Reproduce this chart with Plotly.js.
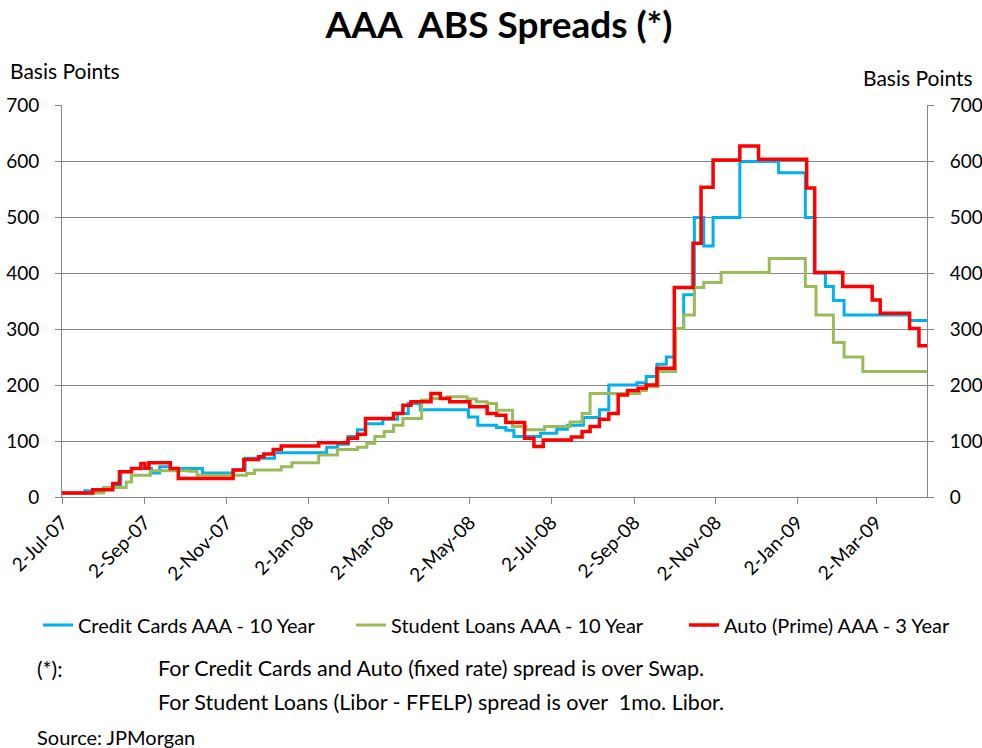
<!DOCTYPE html>
<html>
<head>
<meta charset="utf-8">
<script src="https://cdn.plot.ly/plotly-3.0.1.min.js"></script>
<style>html,body{margin:0;padding:0;background:#fff;}#chart{width:982px;height:748px;}</style>
</head>
<body>
<div id="chart"></div>
<script>
// Credit Cards AAA - 10 Year
const ccDates = ["2007-07-02","2007-07-19","2007-08-02","2007-08-10","2007-08-15","2007-08-23","2007-09-07","2007-09-13","2007-09-21","2007-10-15","2007-11-07","2007-11-16","2007-12-08","2008-01-16","2008-01-24","2008-02-01","2008-02-08","2008-02-14","2008-02-27","2008-03-09","2008-03-17","2008-03-26","2008-05-01","2008-05-08","2008-05-22","2008-05-29","2008-06-04","2008-06-24","2008-07-06","2008-07-14","2008-07-26","2008-08-07","2008-08-14","2008-09-04","2008-09-11","2008-09-19","2008-09-26","2008-10-02","2008-10-09","2008-10-17","2008-10-24","2008-10-31","2008-11-20","2008-12-19","2009-01-08","2009-01-15","2009-01-23","2009-01-29","2009-02-06","2009-03-27","2009-04-09"];
const ccValues = [7,11,17,21,45,51,43,54,51,43,48,69,79,89,94,108,120,131,139,149,167,156,143,128,124,119,108,114,121,128,142,156,200,204,215,237,250,301,361,499,448,499,599,579,499,400,376,351,325,315,315];

// Student Loans AAA - 10 Year
const slDates = ["2007-07-02","2007-08-02","2007-08-19","2007-08-23","2007-09-06","2007-10-05","2007-10-11","2007-11-17","2007-11-23","2007-12-13","2007-12-21","2008-01-10","2008-01-24","2008-02-08","2008-02-15","2008-02-21","2008-02-28","2008-03-06","2008-03-13","2008-03-27","2008-04-03","2008-04-15","2008-04-30","2008-05-07","2008-05-15","2008-05-22","2008-06-03","2008-06-13","2008-06-27","2008-07-16","2008-07-25","2008-07-31","2008-09-06","2008-09-11","2008-09-20","2008-10-03","2008-10-09","2008-10-17","2008-10-24","2008-11-06","2008-12-12","2009-01-08","2009-01-16","2009-01-29","2009-02-06","2009-02-20","2009-04-09"];
const slValues = [7,17,27,39,47,46,39,42,48,54,61,75,85,89,96,108,117,128,140,173,176,179,175,170,167,155,126,120,126,134,149,185,190,197,224,301,325,374,383,401,426,376,325,276,250,224,224];

// Auto (Prime) AAA - 3 Year
const auDates = ["2007-07-02","2007-07-25","2007-08-09","2007-08-14","2007-08-23","2007-08-30","2007-09-02","2007-09-05","2007-09-21","2007-09-27","2007-11-07","2007-11-15","2007-11-26","2007-11-30","2007-12-07","2007-12-13","2008-01-10","2008-02-01","2008-02-08","2008-02-14","2008-03-06","2008-03-13","2008-03-19","2008-04-03","2008-04-10","2008-04-17","2008-05-02","2008-05-15","2008-05-22","2008-05-29","2008-06-12","2008-06-19","2008-06-26","2008-07-17","2008-07-25","2008-07-31","2008-08-07","2008-08-14","2008-08-21","2008-08-28","2008-09-05","2008-09-11","2008-09-19","2008-10-02","2008-10-16","2008-10-22","2008-10-31","2008-11-20","2008-12-04","2009-01-09","2009-01-15","2009-02-05","2009-02-27","2009-03-05","2009-03-27","2009-04-03","2009-04-09"];
const auValues = [7,13,24,45,51,60,52,61,51,33,48,67,72,77,85,91,97,105,112,140,149,164,170,185,176,170,161,149,146,133,105,90,102,107,117,126,139,149,182,190,194,200,230,374,453,553,602,627,603,552,401,376,352,328,301,270,270];

const seriesNames = ["Credit Cards AAA - 10 Year","Student Loans AAA - 10 Year","Auto (Prime) AAA - 3 Year"];
const yTicks = [0,100,200,300,400,500,600,700];

const FONT = "Lato, 'Open Sans', sans-serif";
const L = 62, R = 927, T = 105, B = 497, W = 982, H = 748;
const px = X => (X - L) / (R - L);
const py = Y => (B - Y) / (B - T);

const traces = [
  {x: ccDates, y: ccValues, name: seriesNames[0], legend: 'legend', type: 'scatter', mode: 'lines', line: {shape: 'hv', color: '#00B0F0', width: 3}},
  {x: slDates, y: slValues, name: seriesNames[1], legend: 'legend2', type: 'scatter', mode: 'lines', line: {shape: 'hv', color: '#9BBB59', width: 3}},
  {x: auDates, y: auValues, name: seriesNames[2], legend: 'legend3', type: 'scatter', mode: 'lines', line: {shape: 'hv', color: '#FF0000', width: 3.5}},
  {x: ccDates.slice(0,1), y: [null], yaxis: 'y2', showlegend: false, type: 'scatter', mode: 'lines', hoverinfo: 'skip'}
];

const ann = (text, X, Y, xa, size, bold) => ({
  text: bold ? '<b>' + text + '</b>' : text, xref: 'paper', yref: 'paper', x: px(X), y: py(Y),
  xanchor: xa, yanchor: 'middle', showarrow: false, font: {family: FONT, size: size, color: '#000'}
});

const leg = X => ({
  orientation: 'h', x: px(X), xanchor: 'left', y: py(625), yanchor: 'middle',
  font: {family: FONT, size: 20, color: '#000'}, bgcolor: 'rgba(0,0,0,0)'
});

const layout = {
  width: W, height: H,
  margin: {l: L, r: W - R, t: T, b: H - B, pad: 0},
  paper_bgcolor: '#fff', plot_bgcolor: '#fff',
  font: {family: FONT, size: 18, color: '#000'},
  showlegend: true,
  hovermode: false,
  xaxis: {
    type: 'date', range: ['2007-07-02', '2009-04-09'],
    tick0: '2007-07-02', dtick: 'M2', tickformat: '%-d-%b-%y', tickangle: -45,
    ticks: 'outside', ticklen: 6, tickcolor: '#868686', tickwidth: 1,
    showgrid: false, zeroline: false, showline: true, linecolor: '#868686', linewidth: 1,
    tickfont: {family: FONT, size: 19, color: '#000'}, fixedrange: true
  },
  yaxis: {
    range: [0, 700], tickvals: yTicks, ticktext: yTicks.map(String),
    ticks: 'outside', ticklen: 6, tickcolor: '#868686',
    showgrid: true, gridcolor: '#868686', gridwidth: 1, zeroline: false,
    showline: true, linecolor: '#868686', linewidth: 1,
    tickfont: {family: FONT, size: 19, color: '#000'}, ticklabelstandoff: 12
  },
  yaxis2: {
    range: [0, 700], tickvals: yTicks, ticktext: yTicks.map(String), overlaying: 'y', side: 'right',
    ticks: 'outside', ticklen: 6, tickcolor: '#868686',
    showgrid: false, zeroline: false, showline: true, linecolor: '#868686', linewidth: 1,
    tickfont: {family: FONT, size: 19, color: '#000'}, ticklabelstandoff: 12
  },
  legend: leg(38),
  legend2: leg(351),
  legend3: leg(684),
  title: {text: '<b>AAA  ABS Spreads (*)</b>', x: 499 / W, xanchor: 'center', y: 1 - 25 / H, yanchor: 'middle',
    font: {family: FONT, size: 37, color: '#000'}},
  annotations: [
    ann('Basis Points', 8, 71, 'left', 21),
    ann('Basis Points', 975, 78, 'right', 21),
    ann('(*):', 35, 668, 'left', 21),
    ann('For Credit Cards and Auto (fixed rate) spread is over Swap.', 156, 668, 'left', 21.5),
    ann('For Student Loans (Libor - FFELP) spread is over  1mo. Libor.', 156, 702, 'left', 21.5),
    ann('Source: JPMorgan', 35, 737, 'left', 20)
  ]
};

Plotly.newPlot('chart', traces, layout, {displayModeBar: false, staticPlot: true});
</script>
</body>
</html>
